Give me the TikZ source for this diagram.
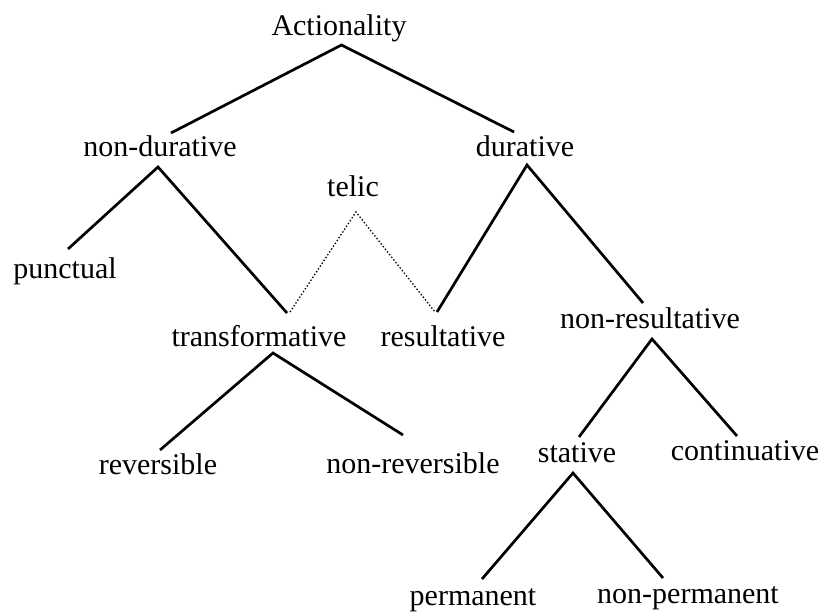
\documentclass[tikz,border=0pt]{standalone}
\usepackage{fontspec}
\setmainfont{Liberation Serif}
\usetikzlibrary{calc}
\begin{document}
\begin{tikzpicture}[x=1pt,y=-1pt,
  term/.style={inner sep=0pt,anchor=base,font=\fontsize{30}{36}\selectfont},
  branch/.style={line width=2.7pt},
  link/.style={line width=1.3pt,dash pattern=on 1.4pt off 2pt}]
\useasboundingbox (0,0) rectangle (822,612);
% labels, placed at their baselines
\node[term] (act)     at (339,36)  {Actionality};
\node[term] (nd)      at (160,157) {non-durative};
\node[term] (dur)     at (525,157) {durative};
\node[term] (telic)   at (353,197) {telic};
\node[term] (punct)   at (65,279)  {punctual};
\node[term] (trans)   at (259,346) {transformative};
\node[term] (res)     at (443,346) {resultative};
\node[term] (nonres)  at (650,328) {non-resultative};
\node[term] (rev)     at (158,474) {reversible};
\node[term] (nonrev)  at (413,473) {non-reversible};
\node[term] (stat)    at (577,462) {stative};
\node[term] (cont)    at (745,460) {continuative};
\node[term] (perm)    at (473,605) {permanent};
\node[term] (nonperm) at (688,603) {non-permanent};
% tree branches
\draw[branch] ($(nd.base)+(11,-24)$) -- ($(act.base)+(2.5,9)$) -- ($(dur.base)+(-11,-25)$);
\draw[branch] ($(punct.base)+(3,-30)$) -- ($(nd.base)+(-2,10)$) -- ($(trans.base)+(28,-33)$);
\draw[branch] ($(res.base)+(-6,-34)$) -- ($(dur.base)+(2,8)$) -- ($(nonres.base)+(-7,-25)$);
\draw[branch] ($(rev.base)+(2,-24)$) -- ($(trans.base)+(14,7)$) -- ($(nonrev.base)+(-10,-38)$);
\draw[branch] ($(stat.base)+(2,-25)$) -- ($(nonres.base)+(2,11)$) -- ($(cont.base)+(-8,-24)$);
\draw[branch] ($(perm.base)+(9,-26)$) -- ($(stat.base)+(-4,11)$) -- ($(nonperm.base)+(-25,-25)$);
% telic grouping
\draw[link] ($(trans.base)+(31,-34)$) -- ($(telic.base)+(3,15)$) -- ($(res.base)+(-8,-34)$);
\end{tikzpicture}
\end{document}
